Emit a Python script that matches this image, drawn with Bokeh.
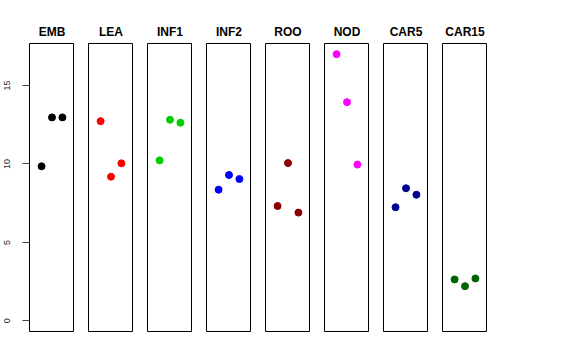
from bokeh.plotting import figure
from bokeh.layouts import row
from bokeh.models import Range1d, FixedTicker
from bokeh.embed import file_html
from bokeh.resources import INLINE

groups = ["EMB", "LEA", "INF1", "INF2", "ROO", "NOD", "CAR5", "CAR15"]
colors = ["#000000", "#FF0000", "#00CD00", "#0000FF", "#8B0000", "#FF00FF", "#00008B", "#006400"]
rep = [1, 2, 3]
emb = [9.85, 12.97, 12.97]
lea = [12.73, 9.19, 10.04]
inf1 = [10.23, 12.82, 12.63]
inf2 = [8.36, 9.30, 9.04]
roo = [7.32, 10.06, 6.90]
nod = [17.00, 13.94, 9.96]
car5 = [7.24, 8.45, 8.04]
car15 = [2.64, 2.21, 2.70]
values = [emb, lea, inf1, inf2, roo, nod, car5, car15]
yticks = [0, 5, 10, 15]

figs = []
for i, (g, c, v) in enumerate(zip(groups, colors, values)):
    first = i == 0
    p = figure(frame_width=45, frame_height=288, output_backend="svg",
               toolbar_location=None,
               x_range=Range1d(-0.16, 4.16), y_range=Range1d(-0.68, 17.68),
               min_border_left=29 if first else 14, min_border_right=0,
               min_border_top=43, min_border_bottom=5)
    p.title.text = g
    p.title.align = "center"
    p.title.text_font = "Liberation Sans"
    p.title.text_font_style = "bold"
    p.title.text_font_size = "12px"
    p.title.text_color = "black"
    p.title.standoff = 9
    p.xaxis.visible = False
    p.xgrid.visible = False
    p.ygrid.visible = False
    p.outline_line_color = "black"
    p.outline_line_width = 1
    p.outline_line_alpha = 1
    p.background_fill_color = "white"
    p.border_fill_color = "white"
    if first:
        ax = p.yaxis[0]
        ax.ticker = FixedTicker(ticks=yticks)
        ax.major_label_orientation = "vertical"
        ax.major_label_text_font = "Liberation Sans"
        ax.major_label_text_font_size = "9px"
        ax.major_label_text_color = "#222222"
        ax.major_label_standoff = 12
        ax.major_tick_out = 7
        ax.major_tick_in = 0
        ax.minor_tick_out = 0
        ax.minor_tick_in = 0
        ax.axis_line_color = None
        ax.major_tick_line_color = "#444444"
    else:
        p.yaxis.visible = False
    p.scatter(rep, v, size=7, color=c, line_color=c)
    figs.append(p)

layout = row(*figs)
open("out.html", "w").write(file_html(layout, INLINE))
